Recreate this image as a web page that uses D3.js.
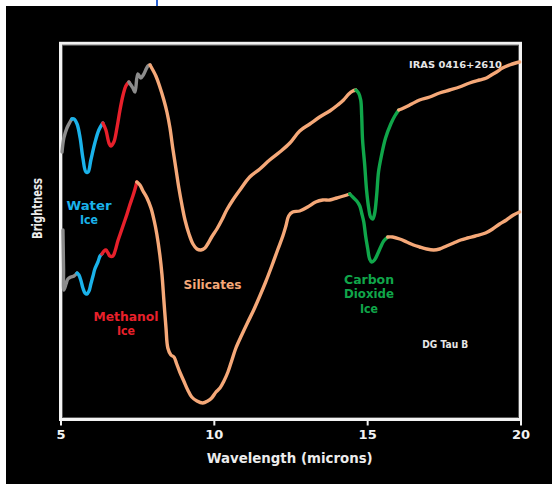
<!DOCTYPE html>
<html>
<head>
<meta charset="utf-8">
<script src="https://cdn.jsdelivr.net/npm/d3@7"></script>
<style>
  html, body { margin: 0; padding: 0; background: #ffffff; }
  svg { display: block; }
  text { font-family: "DejaVu Sans", "Liberation Sans", sans-serif; font-weight: bold; }
</style>
</head>
<body>
<svg id="chart" width="552" height="484"></svg>
<script>
// Infrared spectra of two young stars: wavelength (microns) vs relative brightness.
// Each spectrum is split into coloured segments marking the absorption features.

// --- IRAS 0416+2610 (upper spectrum) ---
const upperGray1X = [5.05, 5.11, 5.21, 5.31, 5.37];
const upperGray1Y = [2.68, 2.82, 2.92, 2.98, 3.01];
const upperWaterX = [5.37, 5.44, 5.54, 5.64, 5.73, 5.83, 5.90, 5.99, 6.12, 6.25, 6.38];
const upperWaterY = [3.01, 3.01, 2.96, 2.82, 2.62, 2.48, 2.48, 2.60, 2.77, 2.90, 2.97];
const upperMethX = [6.38, 6.48, 6.58, 6.64, 6.74, 6.84, 6.94, 7.04, 7.13, 7.23];
const upperMethY = [2.97, 2.90, 2.77, 2.74, 2.78, 2.92, 3.10, 3.25, 3.34, 3.38];
const upperGray2X = [7.23, 7.36, 7.43, 7.52, 7.62, 7.70, 7.85, 7.92];
const upperGray2Y = [3.38, 3.32, 3.28, 3.46, 3.42, 3.45, 3.54, 3.55];
const upperSilX = [7.92, 8.11, 8.24, 8.37, 8.47, 8.57, 8.66, 8.76, 8.86, 8.96, 9.06, 9.19, 9.32, 9.45,
  9.58, 9.71, 9.80, 9.93, 10.10, 10.26, 10.42, 10.62, 10.85, 11.17, 11.50, 11.82, 12.15, 12.48,
  12.80, 13.13, 13.45, 13.78, 14.04, 14.23, 14.40, 14.53, 14.63];
const upperSilY = [3.55, 3.44, 3.33, 3.20, 3.08, 2.92, 2.72, 2.52, 2.32, 2.15, 2.00, 1.86, 1.76, 1.71,
  1.70, 1.72, 1.76, 1.83, 1.91, 2.00, 2.10, 2.20, 2.30, 2.43, 2.51, 2.60, 2.68, 2.77,
  2.89, 2.96, 3.03, 3.09, 3.15, 3.20, 3.26, 3.29, 3.30];
const upperCO2X = [14.63, 14.72, 14.79, 14.82, 14.85, 14.92, 14.98, 15.05, 15.11, 15.18, 15.24, 15.31,
  15.37, 15.47, 15.60, 15.77, 15.90, 16.03];
const upperCO2Y = [3.30, 3.27, 3.20, 3.05, 2.80, 2.55, 2.30, 2.12, 2.03, 2.01, 2.06, 2.25,
  2.48, 2.65, 2.82, 2.96, 3.04, 3.10];
const upperTailX = [16.03, 16.19, 16.45, 16.71, 17.04, 17.36, 17.69, 18.01, 18.34, 18.66, 18.89, 19.05,
  19.22, 19.41, 19.64, 19.84, 19.97];
const upperTailY = [3.10, 3.12, 3.16, 3.20, 3.23, 3.27, 3.30, 3.33, 3.37, 3.40, 3.42, 3.45,
  3.48, 3.52, 3.55, 3.57, 3.58];

// --- DG Tau B (lower spectrum) ---
const lowerGrayX = [5.08, 5.09, 5.10, 5.11, 5.18, 5.24, 5.34, 5.44, 5.54];
const lowerGrayY = [1.90, 1.70, 1.50, 1.30, 1.36, 1.41, 1.43, 1.44, 1.47];
const lowerWaterX = [5.54, 5.60, 5.67, 5.73, 5.80, 5.86, 5.93, 5.99, 6.06, 6.12, 6.22, 6.29, 6.35];
const lowerWaterY = [1.47, 1.45, 1.39, 1.32, 1.27, 1.26, 1.29, 1.36, 1.44, 1.51, 1.58, 1.64, 1.66];
const lowerMethX = [6.35, 6.42, 6.48, 6.55, 6.61, 6.71, 6.78, 6.87, 6.97, 7.07, 7.17, 7.26, 7.36, 7.43, 7.49];
const lowerMethY = [1.66, 1.69, 1.70, 1.67, 1.64, 1.64, 1.69, 1.79, 1.88, 1.97, 2.06, 2.15, 2.24, 2.31, 2.38];
const lowerSilX = [7.49, 7.59, 7.69, 7.82, 7.95, 8.05, 8.14, 8.24, 8.31, 8.37, 8.44, 8.50, 8.60, 8.70,
  8.79, 8.89, 9.02, 9.15, 9.28, 9.45, 9.64, 9.80, 9.93, 10.07, 10.20, 10.33, 10.46, 10.59,
  10.72, 10.91, 11.11, 11.30, 11.50, 11.69, 11.89, 12.08, 12.25, 12.35, 12.44, 12.57,
  12.80, 13.06, 13.32, 13.55, 13.78, 14.01, 14.23, 14.43];
const lowerSilY = [2.38, 2.35, 2.29, 2.22, 2.12, 2.00, 1.86, 1.65, 1.45, 1.20, 0.92, 0.72, 0.65, 0.63,
  0.56, 0.48, 0.39, 0.30, 0.23, 0.19, 0.17, 0.19, 0.22, 0.28, 0.32, 0.39, 0.48, 0.60,
  0.72, 0.85, 0.98, 1.10, 1.24, 1.38, 1.54, 1.70, 1.84, 1.94, 2.04, 2.08,
  2.09, 2.13, 2.18, 2.20, 2.20, 2.22, 2.24, 2.26];
const lowerCO2X = [14.43, 14.53, 14.66, 14.76, 14.82, 14.89, 14.95, 15.02, 15.08, 15.15, 15.24, 15.34,
  15.44, 15.54, 15.67];
const lowerCO2Y = [2.26, 2.23, 2.19, 2.14, 2.07, 1.98, 1.84, 1.71, 1.61, 1.58, 1.60, 1.66,
  1.73, 1.79, 1.83];
const lowerTailX = [15.67, 15.83, 16.06, 16.29, 16.51, 16.71, 16.94, 17.17, 17.36, 17.59, 17.82, 18.05,
  18.27, 18.53, 18.86, 19.09, 19.32, 19.54, 19.77, 19.97];
const lowerTailY = [1.83, 1.83, 1.81, 1.78, 1.75, 1.73, 1.71, 1.70, 1.71, 1.74, 1.77, 1.80,
  1.82, 1.84, 1.87, 1.91, 1.96, 2.00, 2.05, 2.08];

const xTicks = [5, 10, 15, 20];

const colors = {
  gray: "#8c8c8c",
  water: "#1ab2ea",
  methanol: "#e8202b",
  silicate: "#f5a878",
  co2: "#10a64a"
};

const segments = [
  [upperGray1X, upperGray1Y, colors.gray],
  [upperWaterX, upperWaterY, colors.water],
  [upperMethX, upperMethY, colors.methanol],
  [upperGray2X, upperGray2Y, colors.gray],
  [upperSilX, upperSilY, colors.silicate],
  [upperCO2X, upperCO2Y, colors.co2],
  [upperTailX, upperTailY, colors.silicate],
  [lowerGrayX, lowerGrayY, colors.gray],
  [lowerWaterX, lowerWaterY, colors.water],
  [lowerMethX, lowerMethY, colors.methanol],
  [lowerSilX, lowerSilY, colors.silicate],
  [lowerCO2X, lowerCO2Y, colors.co2],
  [lowerTailX, lowerTailY, colors.silicate]
];

const svg = d3.select("#chart");

// backdrop
svg.append("rect").attr("x", 6).attr("y", 6).attr("width", 546).attr("height", 478).attr("fill", "#000");
svg.append("rect").attr("x", 156).attr("y", 0).attr("width", 2).attr("height", 6).attr("fill", "#2a62d4");

const frameL = 60.5, frameR = 520.5, frameT = 43.3, frameB = 419.5;

const x = d3.scaleLinear().domain([5, 20]).range([frameL, frameR]);
const y = d3.scaleLinear().domain([0, 3.77]).range([420, 43]);

// frame
svg.append("rect")
  .attr("x", frameL).attr("y", frameT)
  .attr("width", frameR - frameL).attr("height", frameB - frameT)
  .attr("fill", "none").attr("stroke", "#f2f2f2").attr("stroke-width", 3);
svg.append("rect")
  .attr("x", frameL + 2).attr("y", frameT + 2)
  .attr("width", frameR - frameL - 4).attr("height", frameB - frameT - 4)
  .attr("fill", "none").attr("stroke", "#6a6a6a").attr("stroke-width", 0.8);

// x axis
const axis = svg.append("g")
  .attr("transform", `translate(0,${frameB})`)
  .call(d3.axisBottom(x).tickValues(xTicks).tickSize(6).tickPadding(4).tickFormat(d3.format("d")));
axis.select(".domain").remove();
axis.selectAll(".tick line").attr("stroke", "#f2f2f2").attr("stroke-width", 2);
axis.selectAll(".tick text")
  .attr("fill", "#f2f2f2")
  .style("font-size", "13px")
  .style("font-family", "'DejaVu Sans', sans-serif")
  .style("font-weight", "bold");

// spectra
const line = d3.line()
  .x(d => x(d[0]))
  .y(d => y(d[1]))
  .curve(d3.curveCatmullRom.alpha(0.5));

svg.append("g").selectAll("path")
  .data(segments)
  .join("path")
  .attr("d", s => line(d3.zip(s[0], s[1])))
  .attr("fill", "none")
  .attr("stroke", s => s[2])
  .attr("stroke-width", 3.4)
  .attr("stroke-linecap", "round")
  .attr("stroke-linejoin", "round");

// labels: each label is one text element; extra lines are tspans
function label(lines, cx, cy, color, size, lens, lineGap) {
  const t = svg.append("text")
    .attr("x", cx).attr("y", cy)
    .attr("text-anchor", "middle")
    .attr("dominant-baseline", "central")
    .attr("fill", color)
    .style("font-size", size + "px");
  lines.forEach((txt, i) => {
    const s = t.append("tspan")
      .attr("x", cx)
      .attr("y", cy + i * (lineGap || 0))
      .text(txt);
    if (lens && lens[i]) s.attr("textLength", lens[i]).attr("lengthAdjust", "spacingAndGlyphs");
  });
  return t;
}

label(["Water", "Ice"], 89, 206, colors.water, 12, [45, 18], 14.3);
label(["Methanol", "Ice"], 126, 317, colors.methanol, 12, [65, 18], 14.3);
label(["Silicates"], 212.5, 284, colors.silicate, 13, [58]);
label(["Carbon", "Dioxide", "Ice"], 369, 280, colors.co2, 12, [50, 50, 18], 14.3);
label(["IRAS 0416+2610"], 455.5, 63.5, "#e6e6e6", 9.5, [93]);
label(["DG Tau B"], 445.3, 344, "#e6e6e6", 10, [46]);
label(["Wavelength (microns)"], 289.7, 457.5, "#ececec", 14.5, [166]);

svg.append("text")
  .attr("transform", "translate(37,208.5) rotate(-90)")
  .attr("text-anchor", "middle")
  .attr("dominant-baseline", "central")
  .attr("fill", "#ececec")
  .style("font-size", "13.5px")
  .attr("textLength", 61)
  .attr("lengthAdjust", "spacingAndGlyphs")
  .text("Brightness");
</script>
</body>
</html>
